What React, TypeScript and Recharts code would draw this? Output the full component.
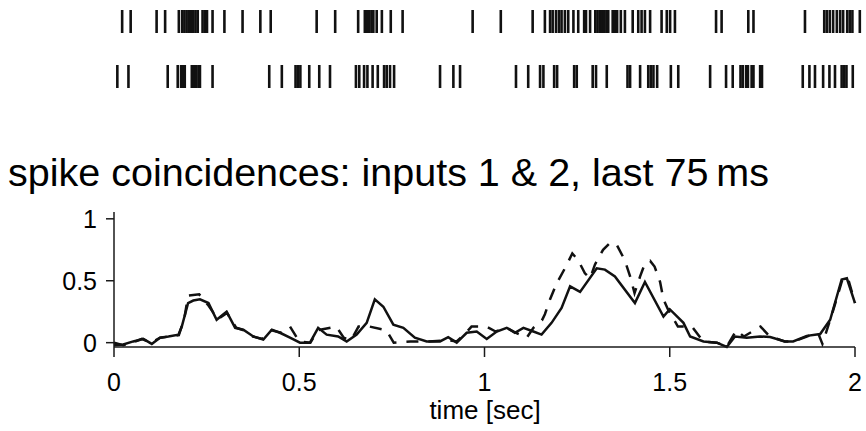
import { Line, LineChart, Scatter, ScatterChart, XAxis, YAxis } from "recharts";

// spike times (s) of the two inputs
const spikesInput1 = [
  0.022, 0.045, 0.115, 0.138, 0.175, 0.184, 0.19, 0.196, 0.202, 0.208, 0.214, 0.22, 0.226,
  0.239, 0.245, 0.251, 0.266, 0.298, 0.347, 0.395, 0.423, 0.547, 0.597, 0.659, 0.677, 0.683,
  0.689, 0.695, 0.7, 0.709, 0.723, 0.747, 0.779, 0.968, 1.044, 1.13, 1.163, 1.177, 1.184,
  1.193, 1.201, 1.208, 1.217, 1.226, 1.24, 1.253, 1.269, 1.274, 1.285, 1.299, 1.305, 1.311,
  1.317, 1.323, 1.329, 1.334, 1.346, 1.352, 1.358, 1.368, 1.379, 1.4, 1.415, 1.424, 1.433,
  1.447, 1.478, 1.492, 1.501, 1.514, 1.625, 1.64, 1.712, 1.726, 1.865, 1.917, 1.924, 1.932,
  1.941, 1.951, 1.96, 1.968, 1.979, 1.986, 1.993, 2.013,
];

const spikesInput2 = [
  0.009, 0.039, 0.145, 0.172, 0.181, 0.186, 0.191, 0.21, 0.216, 0.222, 0.228, 0.232, 0.266,
  0.419, 0.453, 0.49, 0.496, 0.503, 0.527, 0.554, 0.583, 0.653, 0.662, 0.675, 0.684, 0.698,
  0.712, 0.729, 0.736, 0.745, 0.756, 0.88, 0.916, 0.934, 1.085, 1.118, 1.15, 1.159, 1.188,
  1.196, 1.242, 1.249, 1.292, 1.301, 1.33, 1.386, 1.393, 1.42, 1.442, 1.449, 1.456, 1.466,
  1.503, 1.523, 1.609, 1.652, 1.67, 1.691, 1.697, 1.706, 1.711, 1.721, 1.726, 1.744, 1.749,
  1.859, 1.877, 1.892, 1.914, 1.931, 1.946, 1.964, 1.971, 1.977, 1.994,
];

// solid curve
const solidTimes = [
  0, 0.025, 0.052, 0.079, 0.102, 0.124, 0.147, 0.174, 0.183, 0.2, 0.214, 0.232, 0.255, 0.277,
  0.304, 0.327, 0.349, 0.376, 0.403, 0.426, 0.448, 0.475, 0.502, 0.529, 0.551, 0.574, 0.605,
  0.628, 0.655, 0.682, 0.704, 0.727, 0.754, 0.781, 0.812, 0.844, 0.88, 0.902, 0.925, 0.952,
  0.979, 1.006, 1.033, 1.06, 1.082, 1.105, 1.132, 1.154, 1.181, 1.208, 1.231, 1.258, 1.303,
  1.325, 1.352, 1.406, 1.433, 1.483, 1.5, 1.537, 1.555, 1.591, 1.627, 1.654, 1.676, 1.708,
  1.744, 1.771, 1.811, 1.833, 1.87, 1.906, 1.933, 1.964, 1.978, 2,
];
const solidValues = [
  -0.02, -0.015, 0.01, 0.03, -0.01, 0.04, 0.05, 0.065, 0.13, 0.32, 0.34, 0.35, 0.32, 0.185,
  0.25, 0.12, 0.105, 0.05, 0.025, 0.105, 0.08, 0.04, 0, 0, 0.12, 0.065, 0.05,
  0.01, 0.065, 0.16, 0.35, 0.29, 0.145, 0.12, 0.04, 0.01, 0.01, 0.045, 0, 0.08,
  0.09, 0.03, 0.09, 0.12, 0.08, 0.12, 0.09, 0.065, 0.16, 0.28, 0.455, 0.41, 0.6,
  0.59, 0.535, 0.32, 0.49, 0.21, 0.27, 0.16, 0.05, 0.01, 0, -0.035, 0.05, 0.04,
  0.05, 0.045, 0.01, 0.01, 0.055, 0.07, 0.185, 0.51, 0.52, 0.32,
];

// dashed curve
const dashedTimes = [
  0, 0.025, 0.05, 0.075, 0.1, 0.125, 0.15, 0.175, 0.19, 0.2, 0.23, 0.255, 0.28, 0.305, 0.33,
  0.35, 0.375, 0.4, 0.425, 0.45, 0.475, 0.5, 0.53, 0.55, 0.6, 0.62, 0.64, 0.66, 0.69, 0.735,
  0.755, 0.8, 0.85, 0.9, 0.925, 0.95, 0.965, 1.005, 1.03, 1.06, 1.085, 1.114, 1.132, 1.155,
  1.163, 1.177, 1.195, 1.217, 1.237, 1.252, 1.271, 1.285, 1.298, 1.32, 1.34, 1.357, 1.378,
  1.393, 1.405, 1.42, 1.433, 1.447, 1.459, 1.474, 1.483, 1.495, 1.522, 1.56, 1.59, 1.627,
  1.654, 1.68, 1.7, 1.745, 1.77, 1.81, 1.835, 1.87, 1.9, 1.912, 1.94, 1.965, 1.98, 2,
];
const dashedValues = [
  0, -0.02, 0, 0.03, 0, 0.04, 0.05, 0.06, 0.2, 0.38, 0.39, 0.3, 0.19, 0.24, 0.12,
  0.1, 0.05, 0.03, 0.1, 0.08, 0.13, 0.01, 0, 0.1, 0.13, 0.04, 0.02, 0.13, 0.13, 0.1,
  0, 0.01, 0.01, 0.02, 0.01, 0.08, 0.13, 0.13, 0.09, 0.12, 0.08, 0.04, 0.12, 0.18,
  0.23, 0.35, 0.48, 0.6, 0.72, 0.67, 0.56, 0.52, 0.63, 0.75, 0.81, 0.79, 0.67,
  0.535, 0.4, 0.535, 0.64, 0.66, 0.615, 0.49, 0.35, 0.27, 0.13, 0.13, 0.01, 0,
  -0.03, 0.1, 0.05, 0.13, 0.05, 0.01, 0.01, 0.05, 0.08, -0.01, 0.25, 0.5, 0.53, 0.32,
];

const xTicks = [0, 0.5, 1, 1.5, 2];
const yTicks = [0, 0.5, 1];

const FONT = '"Liberation Sans", Arial, Helvetica, sans-serif';

const rasterData = [
  ...spikesInput1.map((t) => ({ t, row: 2 })),
  ...spikesInput2.map((t) => ({ t, row: 1 })),
];
const solidData = solidTimes.map((t, i) => ({ t, v: solidValues[i] }));
const dashedData = dashedTimes.map((t, i) => ({ t, v: dashedValues[i] }));

function SpikeTick(props: any) {
  const { cx, cy } = props;
  return <line x1={cx} x2={cx} y1={cy - 11.5} y2={cy + 11.5} stroke="#111" strokeWidth={2.6} />;
}

export default function App() {
  return (
    <div style={{ position: "absolute", left: 0, top: 0, width: 866, height: 431, background: "#fff", fontFamily: FONT }}>
      <div style={{ position: "absolute", left: 0, top: -6 }}>
        <ScatterChart width={866} height={110} margin={{ top: 0, right: 3.6, left: 114, bottom: 0 }}>
          <XAxis type="number" dataKey="t" domain={[0, 2.02]} hide />
          <YAxis type="number" dataKey="row" domain={[0.5, 2.5]} hide />
          <Scatter data={rasterData} shape={SpikeTick} isAnimationActive={false} />
        </ScatterChart>
      </div>

      <div style={{ position: "absolute", left: 8, top: 152, fontSize: 39.5, lineHeight: "40px", color: "#000", whiteSpace: "nowrap" }}>
        spike coincidences: inputs 1 &amp; 2, last 75{"\u2009"}ms
      </div>

      <div style={{ position: "absolute", left: 0, top: 0 }}>
        <LineChart width={866} height={431} margin={{ top: 212, right: 11, left: 54, bottom: 0 }}>
          <XAxis
            type="number"
            dataKey="t"
            domain={[0, 2]}
            ticks={xTicks}
            height={84}
            tickSize={10}
            tickMargin={16}
            axisLine={{ stroke: "#1a1a1a", strokeWidth: 1.5 }}
            tickLine={{ stroke: "#1a1a1a", strokeWidth: 1.5 }}
            tick={{ fontSize: 25, fill: "#000", fontFamily: FONT }}
          />
          <YAxis
            type="number"
            domain={[-0.03, 1.055]}
            ticks={yTicks}
            width={60}
            tickSize={8}
            tickMargin={9}
            axisLine={{ stroke: "#1a1a1a", strokeWidth: 1.5 }}
            tickLine={{ stroke: "#1a1a1a", strokeWidth: 1.5 }}
            tick={{ fontSize: 25, fill: "#000", fontFamily: FONT }}
          />
          <Line
            data={dashedData}
            dataKey="v"
            stroke="#111"
            strokeWidth={2.5}
            strokeDasharray="12 10"
            dot={false}
            isAnimationActive={false}
          />
          <Line
            data={solidData}
            dataKey="v"
            stroke="#111"
            strokeWidth={2.5}
            dot={false}
            isAnimationActive={false}
          />
        </LineChart>
      </div>

      <div style={{ position: "absolute", left: 385, width: 200, top: 397, fontSize: 26, lineHeight: "26px", textAlign: "center", color: "#000" }}>
        time [sec]
      </div>
    </div>
  );
}
